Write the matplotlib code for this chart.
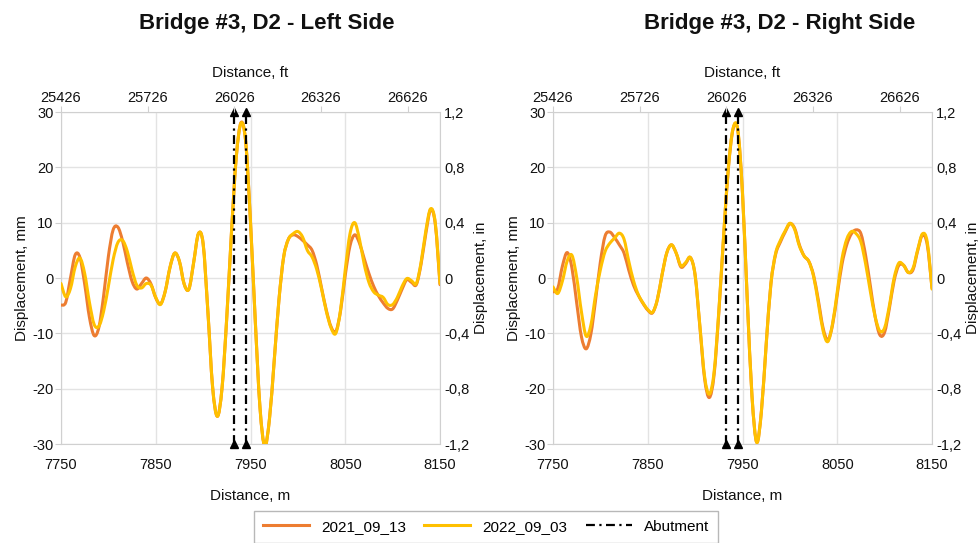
import numpy as np
import matplotlib.pyplot as plt
from matplotlib.path import Path
from matplotlib.patches import PathPatch
from matplotlib.lines import Line2D

plt.rcParams['font.family'] = ['Liberation Sans', 'DejaVu Sans']
plt.rcParams['axes.unicode_minus'] = False

# distance along the track, m (one reading every 5 m)
distance_m = list(range(7750, 8155, 5))

left_2021 = [-4.9, -4.4, 0.0, 4.2, 3.7, -1.1, -7.1, -10.4, -8.9, -3.2,
             3.9, 8.7, 9.2, 6.7, 2.8, -0.6, -2.0, -1.0, 0.0, -1.1,
             -3.6, -4.7, -2.4, 1.9, 4.5, 3.0, -1.1, -2.0, 2.8, 8.0,
             6.2, -6.0, -19.7, -25.0, -19.8, -7.0, 8.5, 21.9, 28.1, 24.5,
             10.1, -7.6, -23.4, -30.4, -25.5, -15.0, -4.0, 3.8, 7.0, 7.8,
             7.5, 6.8, 6.0, 5.0, 2.3, -1.8, -5.8, -8.8, -9.7, -6.0,
             0.5, 5.8, 7.8, 6.3, 3.5, 0.8, -1.5, -3.2, -4.5, -5.5,
             -5.6, -4.0, -2.0, -0.3, -0.8, -1.2, 2.5, 8.0, 12.3, 9.8,
             -1.2]
left_2022 = [-1.0, -3.4, -1.9, 2.0, 3.6, 0.8, -4.4, -8.4, -8.7, -6.0,
             -1.5, 3.3, 6.4, 6.8, 4.8, 1.4, -1.3, -1.8, -1.0, -1.3,
             -3.5, -4.8, -2.4, 1.9, 4.5, 3.0, -1.1, -2.0, 2.8, 8.0,
             6.2, -6.0, -19.7, -25.0, -19.8, -7.0, 8.5, 21.9, 28.0, 24.5,
             10.1, -7.6, -23.4, -30.4, -25.5, -15.0, -4.0, 3.8, 7.0, 8.0,
             8.4, 7.4, 5.0, 3.8, 1.5, -2.0, -6.0, -9.0, -10.0, -5.8,
             1.5, 8.0, 10.0, 7.0, 2.5, -0.8, -2.5, -3.1, -3.5, -4.8,
             -4.8, -3.5, -1.5, -0.1, -0.5, -1.0, 2.8, 8.5, 12.5, 10.0,
             -1.0]
right_2021 = [-2.5, -1.9, 2.2, 4.6, 1.8, -4.5, -10.6, -12.8, -10.1, -3.9,
              2.9, 7.6, 8.3, 7.3, 6.0, 4.5, 1.4, -1.3, -3.1, -4.6,
              -5.8, -6.3, -4.0, 0.5, 4.5, 6.0, 4.5, 2.0, 2.6, 3.7,
              0.5, -8.8, -18.2, -21.6, -17.5, -6.3, 7.2, 19.6, 26.9, 26.7,
              15.3, -3.8, -21.3, -29.7, -24.0, -12.0, -1.0, 4.3, 6.5, 8.3,
              9.8, 9.0, 6.0, 4.0, 3.0, 0.5, -4.0, -9.0, -11.2, -8.5,
              -3.0, 2.5, 6.0, 8.0, 8.7, 8.0, 4.0, -1.5, -7.0, -10.3,
              -9.8, -5.5, -0.5, 2.3, 2.3, 1.0, 1.5, 5.0, 7.8, 6.0,
              -1.8]
right_2022 = [-1.6, -2.8, -0.5, 3.1, 4.1, 0.1, -6.1, -10.5, -8.5, -3.0,
              1.5, 4.8, 6.3, 7.2, 8.1, 7.0, 3.0, -0.5, -3.0, -4.5,
              -5.7, -6.2, -4.0, 0.5, 4.5, 6.0, 4.5, 2.2, 2.8, 3.7,
              0.5, -8.6, -17.8, -21.0, -17.0, -6.0, 7.5, 19.8, 27.0, 26.8,
              15.3, -3.8, -21.3, -29.7, -24.0, -12.0, -1.0, 4.5, 6.8, 8.5,
              9.9, 8.8, 5.8, 4.0, 3.0, 0.3, -4.5, -9.5, -11.5, -8.3,
              -2.5, 3.5, 7.0, 8.4, 8.0, 6.5, 2.5, -2.5, -7.0, -9.6,
              -9.0, -5.0, 0.0, 2.7, 2.3, 1.0, 1.8, 5.2, 8.0, 6.5,
              -2.0]

abutments_m = [7932.5, 7945.0]
ft_ticks = [25426, 25726, 26026, 26326, 26626]
mm_ticks = [-30, -20, -10, 0, 10, 20, 30]
in_ticks = [-1.2, -0.8, -0.4, 0, 0.4, 0.8, 1.2]

titles = ['Bridge #3, D2 - Left Side', 'Bridge #3, D2 - Right Side']
series = [(left_2021, left_2022), (right_2021, right_2022)]

c21 = '#ED7D31'
c22 = '#FFC000'
grid_c = '#e3e3e3'
txt = '#111111'
fs = 10.5


def smooth_line(ax, x, y, **kw):
    # Excel-style "smoothed line": bezier segments through the read points
    p = np.column_stack([x, y]).astype(float)
    ext = np.vstack([p[0], p, p[-1]])
    verts = [p[0]]
    codes = [Path.MOVETO]
    for k in range(len(p) - 1):
        p0, p1, p2, p3 = ext[k], ext[k + 1], ext[k + 2], ext[k + 3]
        verts += [p1 + (p2 - p0) / 6, p2 - (p3 - p1) / 6, p2]
        codes += [Path.CURVE4] * 3
    patch = PathPatch(Path(verts, codes), fill=False, capstyle='round',
                      joinstyle='round', **kw)
    ax.add_patch(patch)
    return patch


fig = plt.figure(figsize=(9.79, 5.43), dpi=100)
lefts = [61 / 979, 553 / 979]
title_x = [267 / 979, 780 / 979]

for i in range(2):
    ax = fig.add_axes([lefts[i], 1 - 444 / 543, 379 / 979, 332 / 543])
    ax.set_xlim(7750, 8150)
    ax.set_ylim(-30, 30)
    ax.set_xticks([7750, 7850, 7950, 8050, 8150])
    ax.set_yticks(mm_ticks)
    ax.grid(True, color=grid_c, lw=1)
    ax.set_axisbelow(True)
    for s in ax.spines.values():
        s.set_color('#d0d0d0')
    ax.tick_params(colors='#d0d0d0', labelcolor=txt, labelsize=fs, length=4)
    ax.tick_params(axis='y', pad=1.5)
    ax.tick_params(axis='x', length=0, pad=10)
    ax.set_xlabel('Distance, m', fontsize=fs + 0.5, color=txt, labelpad=12)
    ax.set_ylabel('Displacement, mm', fontsize=fs + 0.5, color=txt, labelpad=2)

    d21, d22 = series[i]
    smooth_line(ax, distance_m, d21, edgecolor=c21, lw=2.2, zorder=3)
    smooth_line(ax, distance_m, d22, edgecolor=c22, lw=2.2, zorder=4)
    for a in abutments_m:
        ax.plot([a, a], [-30, 30], color='black', lw=1.6,
                dashes=(4, 2, 1, 2), marker='^', ms=6,
                clip_on=False, zorder=5)

    axr = ax.twinx()
    axr.set_ylim(-1.2, 1.2)
    axr.set_yticks(in_ticks)
    axr.set_yticklabels([('%g' % v).replace('.', ',') for v in in_ticks])
    for s in axr.spines.values():
        s.set_visible(False)
    axr.tick_params(colors=grid_c, labelcolor=txt, labelsize=fs, length=0, pad=3)
    axr.set_ylabel('Displacement, in', fontsize=fs + 0.5, color=txt,
                   rotation=90, labelpad=3)

    axt = ax.twiny()
    axt.set_xlim(7750, 8150)
    axt.set_xticks([7750 + (f - ft_ticks[0]) / 3.28084 for f in ft_ticks])
    axt.set_xticklabels([str(f) for f in ft_ticks])
    for s in axt.spines.values():
        s.set_visible(False)
    axt.tick_params(colors='#d0d0d0', labelcolor=txt, labelsize=fs, length=4, pad=1)
    axt.set_xlabel('Distance, ft', fontsize=fs + 0.5, color=txt, labelpad=10)

    fig.text(title_x[i], 1 - 24 / 543, titles[i], ha='center', va='center',
             fontsize=16, fontweight='bold', color=txt)

handles = [Line2D([], [], color=c21, lw=2.2),
           Line2D([], [], color=c22, lw=2.2),
           Line2D([], [], color='black', lw=1.6, dashes=(4, 2, 1, 2))]
leg = fig.legend(handles, ['2021_09_13', '2022_09_03', 'Abutment'],
                 loc='upper center', ncol=3,
                 bbox_to_anchor=(486 / 979, 1 - 503 / 543), fontsize=fs + 0.5,
                 frameon=True, fancybox=False, edgecolor='#a6a6a6',
                 handlelength=3.0, columnspacing=1.2, borderpad=0.6)
leg.get_frame().set_linewidth(1)

fig.savefig('out.png', dpi=100)
